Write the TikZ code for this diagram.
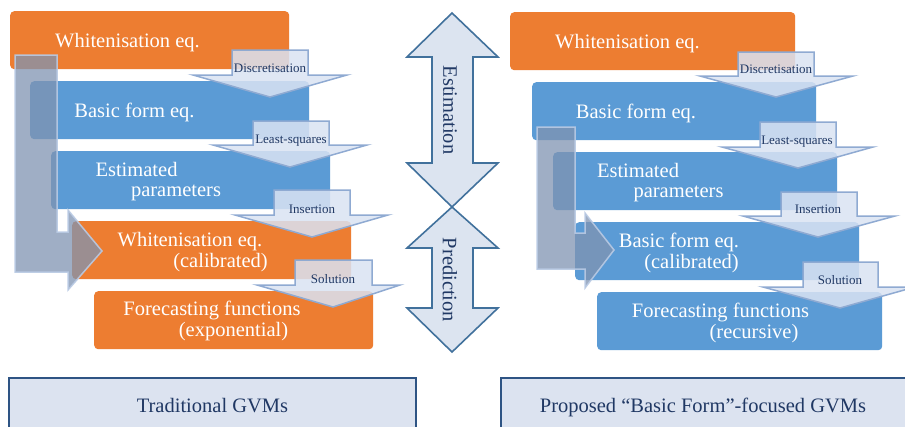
\documentclass[tikz,border=0pt]{standalone}
\usepackage{fontspec}
\setmainfont{Liberation Serif}
\definecolor{orng}{RGB}{237,125,49}
\definecolor{blu}{RGB}{91,155,213}
\definecolor{navy}{RGB}{32,56,100}
\definecolor{darr}{RGB}{218,227,243}
\definecolor{darrb}{RGB}{143,170,210}
\definecolor{bent}{RGB}{128,148,178}
\definecolor{bentb}{RGB}{185,202,228}
\definecolor{carr}{RGB}{220,228,240}
\definecolor{carrb}{RGB}{65,113,156}
\definecolor{bfill}{RGB}{220,227,240}
\definecolor{bline}{RGB}{46,84,132}
\begin{document}
\begin{tikzpicture}[x=1pt,y=-1pt,
  boxo/.style={draw=none,fill=orng,rounded corners=4pt,minimum width=279pt,minimum height=58pt,inner sep=0pt,anchor=north west},
  boxb/.style={boxo,fill=blu},
  btxt/.style={text=white,font=\fontsize{20.5}{24}\selectfont,anchor=base,inner sep=0pt},
  lbl/.style={text=navy,font=\fontsize{13}{15}\selectfont,anchor=base,inner sep=0pt},
  downarr/.style={fill=darr,fill opacity=0.85,draw=darrb,line width=1.5pt,line join=miter},
  bentarr/.style={fill=bent,fill opacity=0.75,draw=bentb,draw opacity=0.9,line width=1.5pt},
  cenarr/.style={fill=carr,draw=carrb,line width=1.6pt,line join=miter},
  vtxt/.style={text=navy,font=\fontsize{20.5}{24}\selectfont,rotate=-90,inner sep=0pt},
  bottxt/.style={text=navy,font=\fontsize{20.5}{24}\selectfont,anchor=base,inner sep=0pt}]
\useasboundingbox (0,0) rectangle (905,426);
\fill[white] (0,0) rectangle (905,426);

% ---------- left column boxes ----------
\node[boxo] (L1) at (10,11) {};
\node[boxb] (L2) at (30,81) {};
\node[boxb] (L3) at (51,151) {};
\node[boxo] (L4) at (72,221) {};
\node[boxo] (L5) at (94,291) {};

% ---------- right column boxes ----------
\node[boxo,minimum width=285pt] (R1) at (510,12) {};
\node[boxb,minimum width=284pt] (R2) at (532,82) {};
\node[boxb,minimum width=284pt] (R3) at (553,152) {};
\node[boxb,minimum width=284pt] (R4) at (575,222) {};
\node[boxb,minimum width=285pt] (R5) at (597,292) {};

% ---------- bent arrows ----------
\draw[bentarr] (15,55) -- (57,55) -- (57,232) -- (68,232) -- (68,210) -- (102,251)
  -- (68,290) -- (68,272) -- (15,272) -- cycle;
\draw[bentarr] (537,127) -- (575,127) -- (575,233) -- (585,233) -- (585,213) -- (614,250)
  -- (585,288) -- (585,269) -- (537,269) -- cycle;

% ---------- box texts ----------
\node[btxt] (tL1) at (127.5,47) {Whitenisation eq.};
\node[btxt] (tL2) at (134.5,117) {Basic form eq.};
\node[btxt] (tL3a) at (136.5,176) {Estimated};
\node[btxt] (tL3b) at (176,196) {parameters};
\node[btxt] (tL4a) at (190,246) {Whitenisation eq.};
\node[btxt] (tL4b) at (220.5,267) {(calibrated)};
\node[btxt] (tL5a) at (212,315) {Forecasting functions};
\node[btxt] (tL5b) at (233.5,336) {(exponential)};

\node[btxt] (tR1) at (627.5,48) {Whitenisation eq.};
\node[btxt] (tR2) at (636,118) {Basic form eq.};
\node[btxt] (tR3a) at (638,177) {Estimated};
\node[btxt] (tR3b) at (678.5,197) {parameters};
\node[btxt] (tR4a) at (679,247) {Basic form eq.};
\node[btxt] (tR4b) at (691.5,268) {(calibrated)};
\node[btxt] (tR5a) at (720.5,317) {Forecasting functions};
\node[btxt] (tR5b) at (754,338) {(recursive)};

% ---------- down arrows left ----------
\draw[downarr] (232,50) -- (308,50) -- (308,75) -- (347,75) -- (270,97) -- (193,75) -- (232,75) -- cycle;
\draw[downarr] (253,121) -- (329,121) -- (329,145) -- (367,145) -- (290,167) -- (213,145) -- (253,145) -- cycle;
\draw[downarr] (274,190) -- (350,190) -- (350,215) -- (388,215) -- (312,237) -- (235,215) -- (274,215) -- cycle;
\draw[downarr] (295,260) -- (372,260) -- (372,285) -- (400,285) -- (333,307) -- (257,285) -- (295,285) -- cycle;
\node[lbl] (dL1) at (270,72) {Discretisation};
\node[lbl] (dL2) at (291,143) {Least-squares};
\node[lbl] (dL3) at (312,213) {Insertion};
\node[lbl] (dL4) at (333,283) {Solution};

% ---------- down arrows right ----------
\draw[downarr] (738,52) -- (814,52) -- (814,76) -- (853,76) -- (776,97) -- (700,76) -- (738,76) -- cycle;
\draw[downarr] (760,122) -- (836,122) -- (836,147) -- (873,147) -- (798,168) -- (722,147) -- (760,147) -- cycle;
\draw[downarr] (781,192) -- (857,192) -- (857,216) -- (895,216) -- (818,237) -- (743,216) -- (781,216) -- cycle;
\draw[downarr] (803,262) -- (878,262) -- (878,287) -- (915,287) -- (840,308) -- (763,287) -- (803,287) -- cycle;
\node[lbl] (dR1) at (776,73) {Discretisation};
\node[lbl] (dR2) at (797,144) {Least-squares};
\node[lbl] (dR3) at (818,213) {Insertion};
\node[lbl] (dR4) at (840,284) {Solution};

% ---------- central double arrows ----------
\draw[cenarr] (452,13) -- (498,57) -- (473,57) -- (473,163) -- (498,163) -- (452,207)
  -- (407,163) -- (432,163) -- (432,57) -- (407,57) -- cycle;
\draw[cenarr] (452,207) -- (498,248) -- (473,248) -- (473,308) -- (498,308) -- (452,352)
  -- (407,308) -- (432,308) -- (432,248) -- (407,248) -- cycle;
\node[vtxt] (est) at (450,110) {Estimation};
\node[vtxt] (pred) at (450,280) {Prediction};

% ---------- bottom boxes ----------
\begin{scope}
\clip (0,0) rectangle (905,426);
\draw[fill=bfill,draw=bline,line width=2pt] (9,378) rectangle (416,440);
\draw[fill=bfill,draw=bline,line width=2pt] (501,378) rectangle (920,440);
\end{scope}
\node[bottxt] (bL) at (212.5,412) {Traditional GVMs};
\node[bottxt] (bR) at (703,412) {Proposed “Basic Form”-focused GVMs};
\end{tikzpicture}
\end{document}
